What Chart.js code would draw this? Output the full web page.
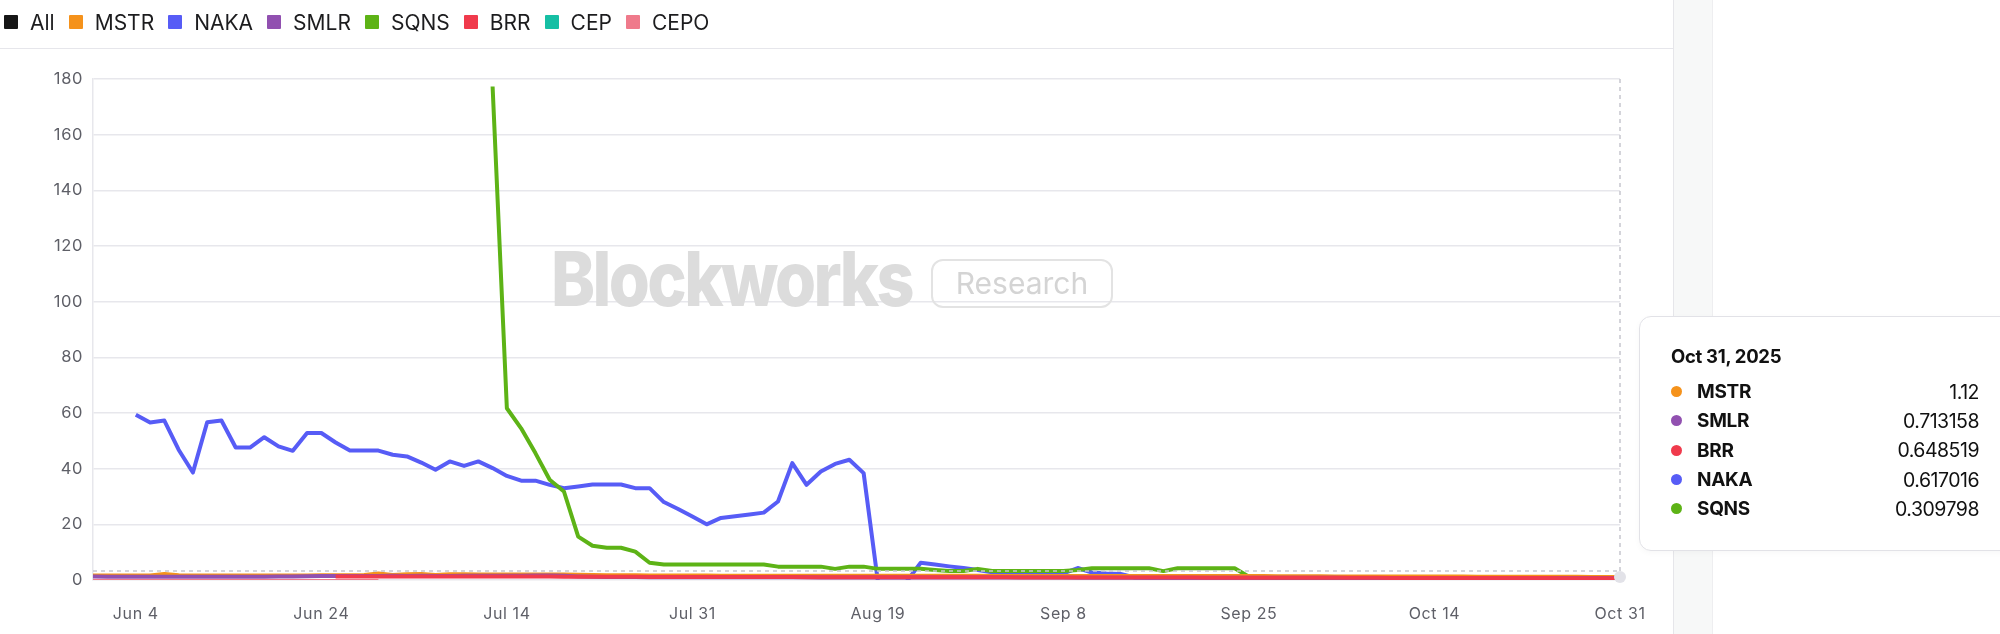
<!DOCTYPE html>
<html>
<head>
<meta charset="utf-8">
<script src="https://cdn.jsdelivr.net/npm/chart.js@4.4.1/dist/chart.umd.min.js"></script>
<style>
  body { margin: 0; width: 2000px; height: 634px; overflow: hidden; background: #fff; font-family: Inter, sans-serif; }
  #legend { position: absolute; left: 4px; top: 0; height: 44px; display: flex; align-items: center; z-index: 2; }
  .li { display: flex; align-items: center; margin-right: 14px; font-size: 21px; color: #1c1c1e; }
  .sq { width: 14px; height: 14px; border-radius: 1px; margin-right: 12px; }
  #sep { position: absolute; left: 0; top: 48px; width: 1673px; border-top: 1.5px solid #e6e6eb; }
  #wrap { position: absolute; left: 0; top: 0; width: 1673px; height: 634px; }
  #strip { position: absolute; left: 1673px; top: 0; width: 38px; height: 634px; background: #f7f8f8;
           border-left: 1px solid #e6e6ea; border-right: 1px solid #eeeef0; }
  #tip { position: absolute; left: 1639px; top: 316px; width: 420px; height: 235px; box-sizing: border-box;
         border: 1px solid #e2e2e7; border-radius: 12px; background: #fff; padding: 25px 0 0 31px; z-index: 3;
         box-shadow: 0 2px 6px rgba(0,0,0,0.03); color: #111; }
  .ttl { font-weight: 700; font-size: 18.5px; line-height: 28px; height: 28px; margin-bottom: 7px; letter-spacing: -0.3px; }
  .row { display: flex; align-items: center; height: 29.3px; width: 308px; }
  .dot { width: 11px; height: 11px; border-radius: 50%; margin-right: 15px; }
  .nm { font-weight: 700; font-size: 19px; letter-spacing: -0.3px; }
  .val { margin-left: auto; font-size: 19.5px; letter-spacing: -0.5px; }
</style>
</head>
<body>
<div id="legend"></div>
<div id="sep"></div>
<div id="wrap"><canvas id="chart"></canvas></div>
<div id="strip"></div>
<div id="tip"></div>
<script>
// trading days shown on the x axis
const dates = [
  'May 30',
  'Jun 2','Jun 3','Jun 4','Jun 5','Jun 6','Jun 9','Jun 10','Jun 11','Jun 12','Jun 13','Jun 16','Jun 17','Jun 18','Jun 20','Jun 23','Jun 24','Jun 25','Jun 26','Jun 27','Jun 30',
  'Jul 1','Jul 2','Jul 3','Jul 7','Jul 8','Jul 9','Jul 10','Jul 11','Jul 14','Jul 15','Jul 16','Jul 17','Jul 18','Jul 21','Jul 22','Jul 23','Jul 24','Jul 25','Jul 28','Jul 29','Jul 30','Jul 31',
  'Aug 1','Aug 4','Aug 5','Aug 6','Aug 7','Aug 8','Aug 11','Aug 12','Aug 13','Aug 14','Aug 15','Aug 18','Aug 19','Aug 20','Aug 21','Aug 22','Aug 25','Aug 26','Aug 27','Aug 28','Aug 29',
  'Sep 2','Sep 3','Sep 4','Sep 5','Sep 8','Sep 9','Sep 10','Sep 11','Sep 12','Sep 15','Sep 16','Sep 17','Sep 18','Sep 19','Sep 22','Sep 23','Sep 24','Sep 25','Sep 26','Sep 29','Sep 30',
  'Oct 1','Oct 2','Oct 3','Oct 6','Oct 7','Oct 8','Oct 9','Oct 10','Oct 13','Oct 14','Oct 15','Oct 16','Oct 17','Oct 20','Oct 21','Oct 22','Oct 23','Oct 24','Oct 27','Oct 28','Oct 29','Oct 30','Oct 31'
];
const tickLabels = ['Jun 4','Jun 24','Jul 14','Jul 31','Aug 19','Sep 8','Sep 25','Oct 14','Oct 31'];
const year = '2025';
const yTicks = { min: 0, max: 180, step: 20 };
const refLine = 3.2;

const mstr = [
  1.65,1.65,1.6,
  1.6,1.65,2.2,1.7,1.6,1.6,1.6,1.6,1.6,1.6,1.6,1.65,1.65,
  1.7,1.7,1.75,1.8,2.3,1.8,2.1,2.2,1.8,2.1,2.1,2.0,2.0,
  2.0,2.0,2.0,2.0,2.0,1.9,1.8,1.75,1.7,1.7,1.65,1.65,1.6,
  1.6,1.6,1.55,1.55,1.55,1.55,1.55,1.55,1.5,1.5,1.5,1.5,1.5,
  1.5,1.5,1.5,1.5,1.5,1.5,1.5,1.5,1.45,1.45,1.45,1.45,1.45,
  1.45,1.45,1.45,1.45,1.4,1.4,1.4,1.4,1.4,1.4,1.4,1.4,1.4,
  1.4,1.4,1.35,1.35,1.35,1.35,1.3,1.3,1.3,1.3,1.3,1.3,1.25,
  1.25,1.25,1.25,1.2,1.2,1.2,1.2,1.15,1.15,1.15,1.15,1.12,1.12,
  1.12
];
const naka = [
  null,null,null,
  59.4,56.6,57.3,46.8,38.6,56.7,57.3,47.6,47.6,51.3,48.0,46.4,52.8,
  52.8,49.4,46.5,46.5,46.5,45.0,44.4,42.2,39.6,42.6,41.0,42.6,40.2,
  37.4,35.7,35.7,34.2,33.0,33.6,34.3,34.3,34.3,33.0,33.0,28.0,25.5,
  22.8,20.0,22.3,22.9,23.5,24.2,28.2,42.0,34.2,39.0,41.7,43.2,38.4,
  -0.6,-0.6,-0.6,6.2,5.6,4.9,4.3,3.6,2.8,2.6,2.4,2.3,2.3,
  2.4,4.3,2.7,2.3,2.2,0.9,0.8,0.8,0.8,0.8,0.8,0.8,0.8,
  0.8,0.78,0.76,0.75,0.74,0.72,0.7,0.7,0.68,0.66,0.66,0.65,0.64,
  0.64,0.63,0.63,0.62,0.62,0.62,0.62,0.62,0.62,0.62,0.62,0.62,0.62,
  0.617016
];
const smlr = [
  1.25,1.2,1.2,
  1.2,1.2,1.2,1.2,1.2,1.2,1.2,1.2,1.2,1.2,1.25,1.3,1.35,
  1.4,1.4,1.45,1.45,1.45,1.5,1.45,1.5,1.45,1.45,1.5,1.5,1.5,
  1.5,1.55,1.6,1.6,1.5,1.3,1.15,1.1,1.05,1.05,1.0,1.0,1.0,
  1.0,1.0,1.0,0.98,0.98,0.96,0.96,0.95,0.95,0.94,0.94,0.93,0.93,
  0.92,0.92,0.91,0.91,0.9,0.9,0.9,0.89,0.88,0.88,0.87,0.86,0.86,
  0.86,0.85,0.85,0.84,0.84,0.83,0.83,0.82,0.82,0.82,0.8,0.8,0.8,
  0.8,0.79,0.79,0.78,0.78,0.77,0.77,0.76,0.76,0.75,0.75,0.75,0.74,
  0.74,0.74,0.73,0.73,0.73,0.73,0.72,0.72,0.72,0.72,0.72,0.71,0.71,
  0.713158
];
const sqns = [
  null,null,null,
  null,null,null,null,null,null,null,null,null,null,null,null,null,
  null,null,null,null,null,null,null,null,null,null,null,null,177.3,
  61.7,54.5,45.6,36.0,31.8,15.6,12.3,11.6,11.6,10.2,6.2,5.6,5.6,
  5.6,5.6,5.6,5.6,5.6,5.6,4.8,4.8,4.8,4.8,4.0,4.8,4.8,
  4.0,4.0,4.0,4.0,3.6,3.2,3.2,4.0,3.2,3.2,3.2,3.2,3.2,
  3.2,3.6,4.2,4.2,4.2,4.2,4.2,3.2,4.2,4.2,4.2,4.2,4.2,
  1.2,0.9,0.9,0.9,0.9,0.9,0.9,0.9,0.9,0.5,0.3,0.3,0.8,
  0.3,0.3,0.3,0.3,0.3,0.3,0.3,0.3,0.3,0.3,0.3,0.3,0.3,
  0.309798
];
const brr = [
  null,null,null,
  null,null,null,null,null,null,null,null,null,null,null,null,null,
  null,1.25,1.3,1.3,1.3,1.3,1.3,1.3,1.3,1.3,1.3,1.3,1.3,
  1.3,1.3,1.25,1.25,1.2,1.2,1.2,1.15,1.15,1.15,1.1,1.1,1.1,
  1.1,1.1,1.1,1.05,1.05,1.05,1.05,1.05,1.0,1.0,1.0,1.0,1.0,
  1.0,1.0,1.0,0.98,0.98,0.96,0.96,0.95,0.95,0.95,0.94,0.93,0.92,
  0.92,0.92,0.9,0.9,0.9,0.88,0.88,0.88,0.86,0.86,0.85,0.85,0.85,
  0.84,0.83,0.82,0.81,0.8,0.8,0.79,0.78,0.78,0.77,0.76,0.75,0.74,
  0.74,0.73,0.72,0.71,0.7,0.7,0.69,0.68,0.68,0.67,0.66,0.66,0.65,
  0.648519
];
const cep = [];
const cepo = [
  -0.4,-0.4,-0.4,
  -0.4,-0.4,-0.4,-0.4,-0.4,-0.4,-0.4,-0.4,-0.4,-0.4,-0.4,-0.4,-0.4,
  -0.4,-0.4,-0.4,-0.4,-0.4
];

// legend order; "order" = drawing order (lower is on top)
const series = [
  { name: 'MSTR', color: '#f5921b', data: mstr, order: 2 },
  { name: 'NAKA', color: '#575cf6', data: naka, order: 6 },
  { name: 'SMLR', color: '#9150b0', data: smlr, order: 1 },
  { name: 'SQNS', color: '#5db316', data: sqns, order: 5 },
  { name: 'BRR',  color: '#f03a4c', data: brr,  order: 0 },
  { name: 'CEP',  color: '#16bfa4', data: cep,  order: 4 },
  { name: 'CEPO', color: '#ef7a8b', data: cepo, order: 3 }
];

const buildLegend = () => {
  const items = [{ name: 'All', color: '#161616' }].concat(series);
  document.getElementById('legend').innerHTML = items
    .map(s => `<div class="li"><span class="sq" style="background:${s.color}"></span>${s.name}</div>`)
    .join('');
};

const watermark = {
  id: 'watermark',
  beforeDatasetsDraw: (chart) => {
    const ctx = chart.ctx;
    ctx.save();
    ctx.font = '800 76px Inter';
    ctx.letterSpacing = '-3px';
    ctx.fillStyle = '#dcdcdc';
    ctx.textBaseline = 'alphabetic';
    const w = ctx.measureText('Blockworks').width;
    ctx.translate(551, 306);
    ctx.scale(361 / w, 1);
    ctx.fillText('Blockworks', 0, 0);
    ctx.restore();

    ctx.save();
    ctx.strokeStyle = '#e3e3e3';
    ctx.lineWidth = 2;
    ctx.beginPath();
    ctx.roundRect(932, 260, 180, 47, 11);
    ctx.stroke();
    ctx.font = '30px Inter';
    ctx.letterSpacing = '0px';
    ctx.fillStyle = '#d4d4d4';
    ctx.textAlign = 'center';
    ctx.textBaseline = 'middle';
    ctx.fillText('Research', 1022, 285);
    ctx.restore();
  }
};

const hoverLines = {
  id: 'hoverLines',
  beforeDraw: (chart) => { chart.ctx.letterSpacing = '0.6px'; },
  afterDatasetsDraw: (chart) => {
    const { ctx, chartArea: a, scales: { x, y } } = chart;
    const last = dates.length - 1;
    const px = x.getPixelForValue(last);
    const py = y.getPixelForValue(refLine);
    ctx.save();
    ctx.strokeStyle = '#c6c6ce';
    ctx.lineWidth = 1.5;
    ctx.setLineDash([4, 4]);
    ctx.beginPath();
    ctx.moveTo(a.left, py);
    ctx.lineTo(a.right, py);
    ctx.moveTo(px, a.top);
    ctx.lineTo(px, a.bottom);
    ctx.stroke();
    ctx.setLineDash([]);
    ctx.fillStyle = '#e2e2e8';
    ctx.beginPath();
    ctx.arc(px, y.getPixelForValue(mstr[last]), 6, 0, Math.PI * 2);
    ctx.fill();
    ctx.restore();
  }
};

const renderTip = ({ tooltip }) => {
  if (!tooltip.dataPoints || !tooltip.dataPoints.length) return;
  const rows = tooltip.dataPoints.map(p =>
    `<div class="row"><span class="dot" style="background:${p.dataset.borderColor}"></span>` +
    `<span class="nm">${p.dataset.label}</span><span class="val">${p.raw}</span></div>`);
  document.getElementById('tip').innerHTML = `<div class="ttl">${tooltip.title[0]}</div>` + rows.join('');
};

const renderChart = () => {
  Chart.defaults.font.family = 'Inter';
  const chart = new Chart('chart', {
    type: 'line',
    data: {
      labels: dates,
      datasets: series.map(s => ({
        label: s.name,
        data: s.data,
        borderColor: s.color,
        backgroundColor: s.color,
        borderWidth: 4,
        pointRadius: 0,
        tension: 0,
        borderJoinStyle: 'round',
        order: s.order
      }))
    },
    options: {
      responsive: true,
      maintainAspectRatio: false,
      animation: false,
      devicePixelRatio: 1,
      layout: { padding: { top: 79, right: 53, left: 0, bottom: 0 } },
      plugins: {
        legend: { display: false },
        tooltip: {
          enabled: false,
          external: renderTip,
          filter: p => p.raw !== null && p.raw !== undefined,
          itemSort: (a, b) => b.raw - a.raw,
          callbacks: { title: items => items[0].label + ', ' + year }
        }
      },
      scales: {
        x: {
          offset: false,
          grid: { display: false },
          border: { display: false },
          ticks: {
            autoSkip: false,
            maxRotation: 0,
            padding: 17,
            color: '#5e5f67',
            font: { size: 16 },
            callback: function (v) {
              const l = this.getLabelForValue(v);
              return tickLabels.includes(l) ? l : '';
            }
          },
          afterFit: s => { s.height = 54; }
        },
        y: {
          min: yTicks.min,
          max: yTicks.max,
          ticks: { stepSize: yTicks.step, padding: 10, color: '#5e5f67', font: { size: 16.5 } },
          grid: { color: '#e7e7ec', lineWidth: 1.5, drawTicks: false },
          border: { color: '#e7e7ec', width: 1.5 },
          afterFit: s => { s.width = 93; }
        }
      }
    },
    plugins: [watermark, hoverLines]
  });

  const last = dates.length - 1;
  const active = series
    .map((s, i) => ({ datasetIndex: i, index: last }))
    .filter(a => series[a.datasetIndex].data[last] != null);
  chart.tooltip.setActiveElements(active, { x: chart.scales.x.getPixelForValue(last), y: 400 });
};

buildLegend();
renderChart();
</script>
</body>
</html>
